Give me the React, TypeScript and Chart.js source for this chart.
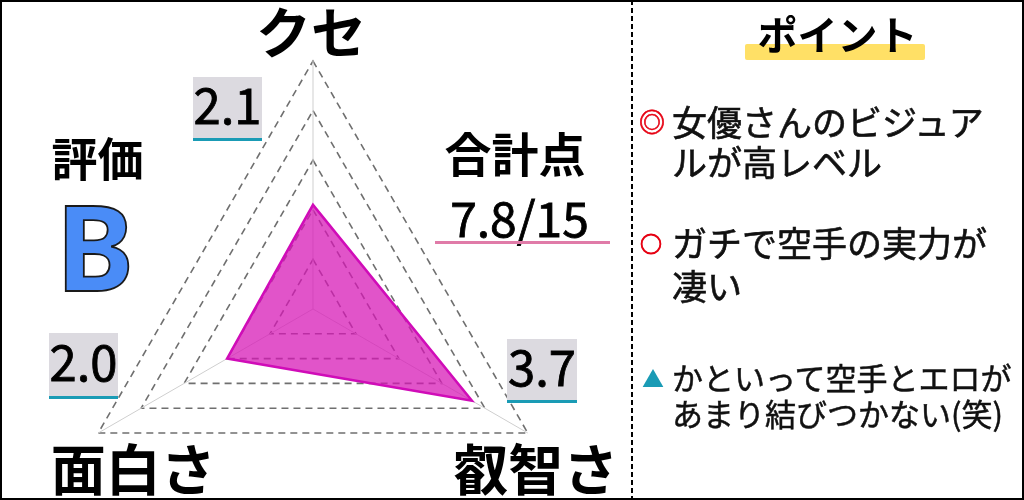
import React, { useEffect, useRef } from "react";
import { Chart, registerables } from "chart.js";

Chart.register(...registerables);

// ---- data ----
const categories = ["クセ", "叡智さ", "面白さ"];
const scores = [2.1, 3.7, 2.0];
const scaleMin = 0;
const scaleMax = 5;
const scaleStep = 1;
const gradeText = "B";
const gradeTitle = "評価";
const totalTitle = "合計点";
const totalMax = 15;
const pointTitle = "ポイント";
const pointMarks = ["◎", "○", "▲"];
const pointLine1 = ["女優さんのビジュア", "ガチで空手の実力が", "かといって空手とエロが"];
const pointLine2 = ["ルが高レベル", "凄い", "あまり結びつかない(笑)"];

const CJK = "'Noto Sans CJK JP', 'Noto Sans', sans-serif";

// label offsets from each outer vertex (style)
const labelOffsets: [number, number][] = [
  [-2, -29],
  [8, 36],
  [35, 36],
];

const axisLabelPlugin = {
  id: "axisLabelPlugin",
  afterDraw(chart: any) {
    const scale = chart.scales.r;
    const ctx = chart.ctx;
    ctx.save();
    ctx.font = `bold 55px ${CJK}`;
    ctx.fillStyle = "#000";
    ctx.textAlign = "center";
    ctx.textBaseline = "middle";
    (chart.data.labels as string[]).forEach((lab, i) => {
      const p = scale.getPointPosition(i, scale.drawingArea);
      const [dx, dy] = labelOffsets[i];
      ctx.fillText(lab, p.x + dx, p.y + dy);
    });
    ctx.restore();
  },
};

type TProps = {
  text: string;
  cx?: number;
  left?: number;
  cy: number;
  size: number;
  weight?: number | string;
  color?: string;
  k?: number;
  stroke?: number;
};

function T({ text, cx, left, cy, size, weight = 400, color = "#111", k = 0.556, stroke = 0 }: TProps) {
  const top = cy - k * size;
  const style: React.CSSProperties = {
    position: "absolute",
    top,
    fontSize: size,
    lineHeight: `${size}px`,
    fontWeight: weight as any,
    color,
    whiteSpace: "nowrap",
    fontFamily: CJK,
  };
  if (stroke > 0) (style as any).WebkitTextStroke = `${stroke}px ${color}`;
  if (cx !== undefined) {
    style.left = cx - 300;
    style.width = 600;
    style.textAlign = "center";
  } else {
    style.left = left;
  }
  return <div style={style}>{text}</div>;
}

function ValueBox({ value, left, top, w, h }: { value: number; left: number; top: number; w: number; h: number }) {
  return (
    <>
      <div style={{ position: "absolute", left, top, width: w, height: h, background: "#dcdae0" }} />
      <div style={{ position: "absolute", left, top: top + h, width: w, height: 3, background: "#1a9bb5" }} />
      <T text={value.toFixed(1)} cx={left + w / 2} cy={top + h / 2 - 2} size={49} k={0.57} color="#000" stroke={0.8} />
    </>
  );
}

export default function App() {
  const ref = useRef<HTMLCanvasElement>(null);

  useEffect(() => {
    const chart = new Chart(ref.current as HTMLCanvasElement, {
      type: "radar",
      data: {
        labels: categories,
        datasets: [
          {
            data: scores,
            backgroundColor: "rgba(214, 24, 182, 0.74)",
            borderColor: "#d00cb8",
            borderWidth: 2.5,
            pointRadius: 0,
            pointHoverRadius: 0,
            fill: true,
          },
        ],
      },
      options: {
        responsive: false,
        animation: false,
        layout: { padding: { left: 65, right: 69, top: 61, bottom: 73 } },
        plugins: { legend: { display: false }, tooltip: { enabled: false } },
        scales: {
          r: {
            min: scaleMin,
            max: scaleMax,
            ticks: { display: false, stepSize: scaleStep },
            pointLabels: { display: false },
            grid: { color: "rgba(95,95,95,0.9)", lineWidth: 1.6 },
            border: { dash: [7, 5] } as any,
            angleLines: { color: "#cfcfcf", lineWidth: 1 },
          },
        },
      },
      plugins: [axisLabelPlugin],
    });
    return () => chart.destroy();
  }, []);

  const total = scores.reduce((a, b) => a + b, 0);

  return (
    <div
      style={{
        position: "absolute",
        left: 0,
        top: 0,
        width: 1024,
        height: 500,
        overflow: "hidden",
        background: "#fff",
        fontFamily: CJK,
      }}
    >
      <canvas
        ref={ref}
        width={630}
        height={630}
        style={{ position: "absolute", left: 0, top: 0, width: 630, height: 630 }}
      />

      {/* left panel texts */}
      <T text={gradeTitle} cx={97.5} cy={158.5} size={46} weight={700} color="#000" />
      <div
        style={{
          position: "absolute",
          left: 95 - 200,
          width: 400,
          textAlign: "center",
          top: 187,
          fontSize: 118,
          lineHeight: "118px",
          fontWeight: 700,
          fontFamily: "'Noto Sans', sans-serif",
          color: "#4a8cf7",
          WebkitTextStroke: "1.8px #1a1a1a",
        }}
      >
        {gradeText}
      </div>

      <ValueBox value={scores[0]} left={193} top={77} w={69} h={61} />
      <ValueBox value={scores[2]} left={49} top={333} w={69} h={63} />
      <ValueBox value={scores[1]} left={507} top={339} w={70} h={61} />

      <T text={totalTitle} cx={515} cy={154.5} size={47} weight={700} color="#000" />
      <T text={`${total.toFixed(1)}/${totalMax}`} cx={519.5} cy={219.5} size={48} k={0.57} color="#000" stroke={0.8} />
      <div style={{ position: "absolute", left: 435, top: 241, width: 175, height: 3, background: "#e07ba8" }} />

      {/* divider */}
      <div
        style={{
          position: "absolute",
          left: 631,
          top: 0,
          width: 2,
          height: 500,
          background: "repeating-linear-gradient(to bottom, #000 0px, #000 5px, transparent 5px, transparent 8px)",
        }}
      />

      {/* right panel */}
      <div
        style={{ position: "absolute", left: 745, top: 44, width: 180, height: 16, background: "#ffe066", borderRadius: 2 }}
      />
      <T text={pointTitle} cx={837.5} cy={35} size={40} weight={700} color="#000" />

      <T text={pointMarks[0]} cx={652} cy={122} size={26} color="#e60012" weight={700} stroke={0.6} />
      <T text={pointLine1[0]} left={672} cy={122} size={35} stroke={0.6} />
      <T text={pointLine2[0]} left={672} cy={162.5} size={35} stroke={0.6} />

      <T text={pointMarks[1]} cx={651} cy={243} size={22} color="#e60012" weight={700} stroke={0.9} />
      <T text={pointLine1[1]} left={672} cy={243} size={35} stroke={0.6} />
      <T text={pointLine2[1]} left={672} cy={286} size={35} stroke={0.6} />

      <T text={pointMarks[2]} cx={653} cy={378} size={22} color="#1a9bb5" />
      <T text={pointLine1[2]} left={672} cy={378} size={31} stroke={0.5} />
      <T text={pointLine2[2]} left={672} cy={414} size={31} stroke={0.5} />

      {/* outer border */}
      <div
        style={{
          position: "absolute",
          left: 0,
          top: 0,
          width: 1024,
          height: 500,
          boxSizing: "border-box",
          border: "2px solid #000",
          pointerEvents: "none",
        }}
      />
    </div>
  );
}
